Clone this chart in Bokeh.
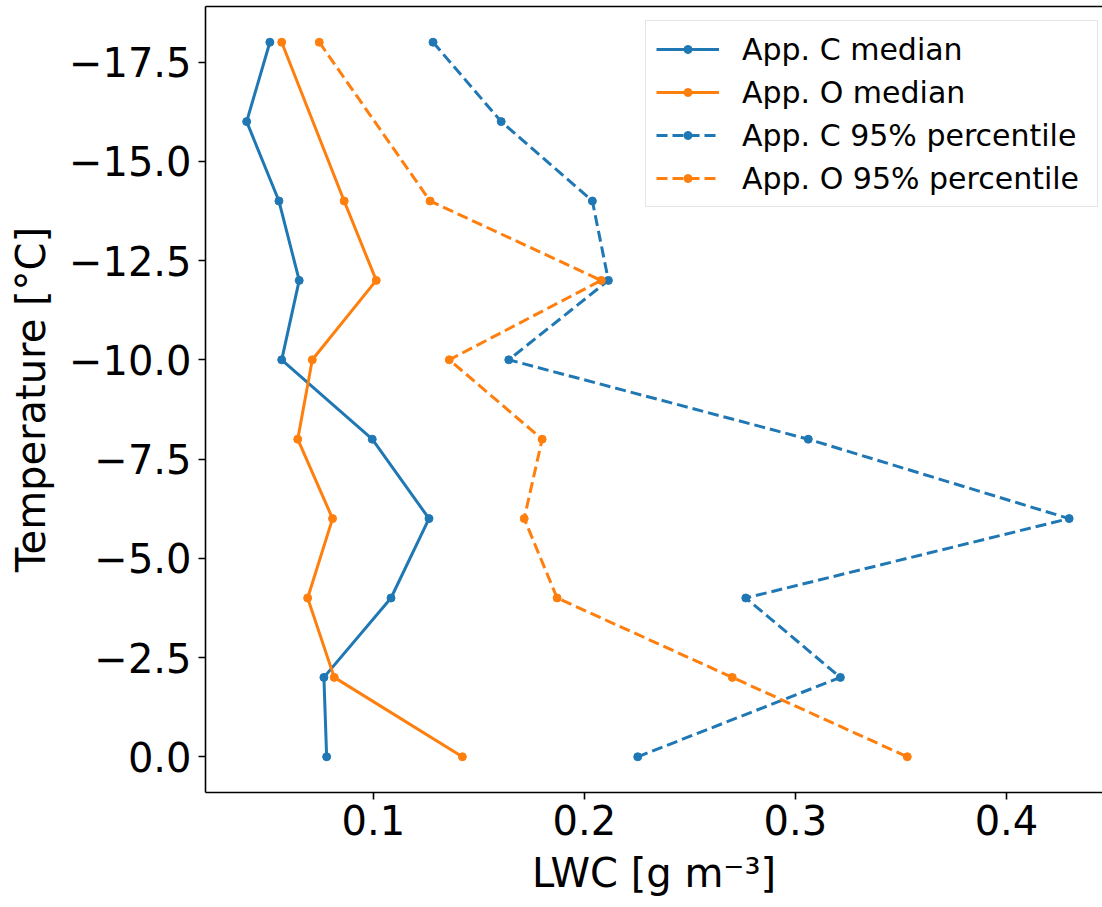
from bokeh.plotting import figure
from bokeh.models import Range1d, FixedTicker, LinearAxis, Legend, LegendItem
from bokeh.embed import file_html
from bokeh.resources import INLINE

# ---- data ----
temp_c = [-18, -16, -14, -12, -10, -8, -6, -4, -2, 0]
temp_o = [-18, -14, -12, -10, -8, -6, -4, -2, 0]
c_median = [0.0510, 0.0400, 0.0553, 0.0649, 0.0566, 0.0995, 0.1264, 0.1084, 0.0766, 0.0779]
o_median = [0.0566, 0.0862, 0.1014, 0.0711, 0.0642, 0.0807, 0.0689, 0.0815, 0.1422]
c_p95 = [0.1283, 0.1606, 0.2038, 0.2114, 0.1642, 0.3061, 0.4297, 0.2765, 0.3213, 0.2253]
o_p95 = [0.0744, 0.1269, 0.2080, 0.1360, 0.1800, 0.1715, 0.1871, 0.2701, 0.3530]

series_labels = ["App. C median", "App. O median", "App. C 95% percentile", "App. O 95% percentile"]

xticks = [0.1, 0.2, 0.3, 0.4]
xtick_labels = ["0.1", "0.2", "0.3", "0.4"]
yticks = [-17.5, -15.0, -12.5, -10.0, -7.5, -5.0, -2.5, 0.0]
ytick_labels = ["\u221217.5", "\u221215.0", "\u221212.5", "\u221210.0", "\u22127.5", "\u22125.0", "\u22122.5", "0.0"]

BLUE = "#1f77b4"
ORANGE = "#ff7f0e"
FONT = "DejaVu Sans"

p = figure(width=1102, height=907, output_backend="svg", toolbar_location=None,
           x_range=Range1d(0.0205, 0.4455), y_range=Range1d(0.9, -18.9),
           min_border_left=205, min_border_right=0, min_border_top=6, min_border_bottom=115,
           x_axis_label="LWC [g m\u207b\u00b3]", y_axis_label="Temperature [\u00b0C]")

p.grid.visible = False
p.outline_line_color = None
p.background_fill_color = "white"
p.border_fill_color = "white"

p.xaxis.ticker = FixedTicker(ticks=xticks)
p.xaxis.major_label_overrides = {t: l for t, l in zip(xticks, xtick_labels)}
p.yaxis.ticker = FixedTicker(ticks=yticks)
p.yaxis.major_label_overrides = {t: l for t, l in zip(yticks, ytick_labels)}

for ax in (p.xaxis[0], p.yaxis[0]):
    ax.major_label_text_font = FONT
    ax.major_label_text_font_size = "40px"
    ax.major_label_text_color = "black"
    ax.axis_label_text_font = FONT
    ax.axis_label_text_font_size = "40px"
    ax.axis_label_text_font_style = "normal"
    ax.axis_label_text_color = "black"
    ax.axis_line_color = "black"
    ax.axis_line_width = 1.6
    ax.major_tick_line_color = "black"
    ax.major_tick_line_width = 1.6
    ax.major_tick_out = 7
    ax.major_tick_in = 0
    ax.minor_tick_out = 0
    ax.minor_tick_in = 0

p.yaxis.major_label_standoff = 7
p.yaxis.axis_label_standoff = 12
p.xaxis.major_label_standoff = 5
p.xaxis.axis_label_standoff = 12

top = LinearAxis(ticker=FixedTicker(ticks=[]), major_label_text_font_size="0px",
                 major_tick_out=0, major_tick_in=0, minor_tick_out=0, minor_tick_in=0,
                 major_label_standoff=0, axis_line_color="black", axis_line_width=1.6)
p.add_layout(top, "above")

r1 = p.line(c_median, temp_c, line_color=BLUE, line_width=3)
s1 = p.scatter(c_median, temp_c, size=8, fill_color=BLUE, line_color=BLUE)
r2 = p.line(o_median, temp_o, line_color=ORANGE, line_width=3)
s2 = p.scatter(o_median, temp_o, size=8, fill_color=ORANGE, line_color=ORANGE)
r3 = p.line(c_p95, temp_c, line_color=BLUE, line_width=3, line_dash="11 5")
s3 = p.scatter(c_p95, temp_c, size=8, fill_color=BLUE, line_color=BLUE)
r4 = p.line(o_p95, temp_o, line_color=ORANGE, line_width=3, line_dash="11 5")
s4 = p.scatter(o_p95, temp_o, size=8, fill_color=ORANGE, line_color=ORANGE)

legend = Legend(items=[
    LegendItem(label=series_labels[0], renderers=[r1, s1]),
    LegendItem(label=series_labels[1], renderers=[r2, s2]),
    LegendItem(label=series_labels[2], renderers=[r3, s3]),
    LegendItem(label=series_labels[3], renderers=[r4, s4]),
], location=(440, 585))
legend.label_text_font = FONT
legend.label_text_font_size = "30px"
legend.label_text_color = "black"
legend.glyph_width = 63
legend.glyph_height = 20
legend.label_height = 36
legend.label_width = 345
legend.spacing = 7
legend.padding = 10
legend.margin = 0
legend.label_standoff = 23
legend.border_line_color = "#cccccc"
legend.border_line_width = 1.5
legend.background_fill_color = "white"
legend.background_fill_alpha = 0.8
p.add_layout(legend)

open("out.html", "w").write(file_html(p, INLINE))
